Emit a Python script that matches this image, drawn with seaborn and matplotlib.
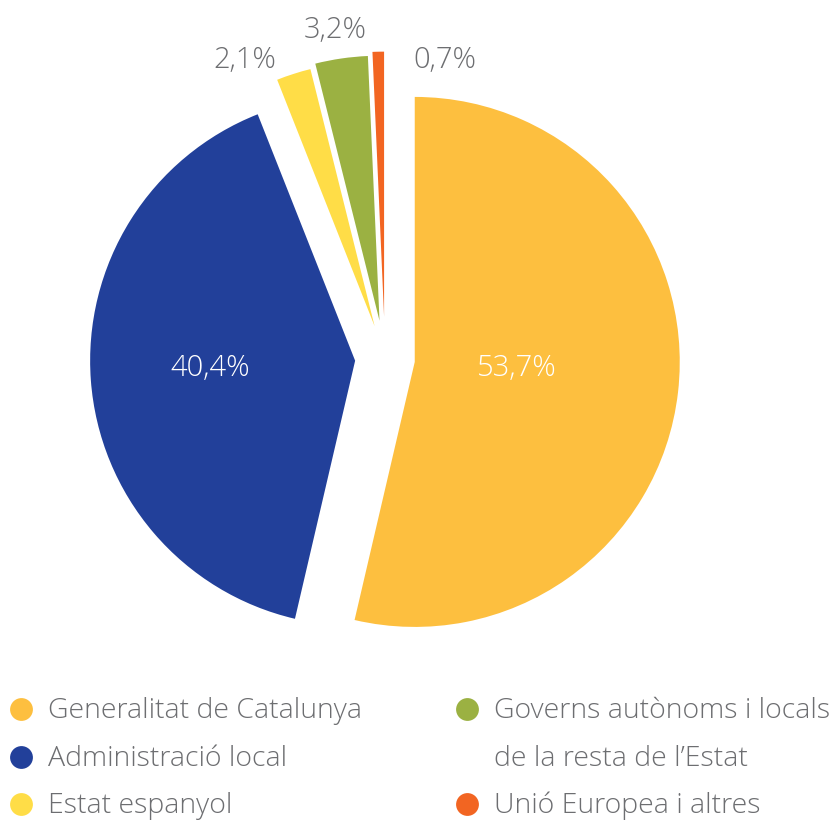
import matplotlib
matplotlib.use('Agg')
import matplotlib.pyplot as plt
import seaborn as sns

# data
categories = ['Generalitat de Catalunya', 'Administració local', 'Estat espanyol',
              'Governs autònoms i locals\nde la resta de l\u2019Estat', 'Unió Europea i altres']
shares = [53.7, 40.4, 2.1, 3.2, 0.7]
pct_labels = ['53,7%', '40,4%', '2,1%', '3,2%', '0,7%']
colors = ['#FDBF3F', '#22409A', '#FFDD47', '#9BB142', '#F26522']

sns.set_style('white')
plt.rcParams['font.family'] = ['Open Sans', 'DejaVu Sans']

W, H = 837, 821
CX, CY, R = 385, 358.5, 265  # pie centre and radius in pixels


def px(x, y):
    # pixel position (from top-left) -> data coords of the pie axes
    return (x - CX) / R, (CY - y) / R


fig = plt.figure(figsize=(W / 100, H / 100), dpi=100)
ax = fig.add_axes([0, 0, 1, 1])
ax.pie(shares, colors=colors, startangle=90, counterclock=False,
       explode=[0.113, 0.113, 0.128, 0.144, 0.158], wedgeprops=dict(linewidth=0))
ax.set_xlim(-CX / R, (W - CX) / R)
ax.set_ylim((CY - H) / R, CY / R)
ax.set_aspect('equal')
ax.axis('off')

# percentage labels
label_pos = [(517, 368), (210, 368), (245, 60), (335, 30), (445, 60)]
label_col = ['white', 'white', '#6D6E71', '#6D6E71', '#6D6E71']
for txt, (x, y), c in zip(pct_labels, label_pos, label_col):
    ax.text(*px(x, y), txt, color=c, fontsize=21, fontweight='light',
            ha='center', va='center')

# legend
legend_pos = [(21, 709), (21, 757), (21, 804), (467, 709), (467, 804)]
for name, col, (x, y) in zip(categories, colors, legend_pos):
    ax.scatter(*px(x, y), s=270, color=col, linewidths=0, clip_on=False)
    lines = name.split('\n')
    for i, line in enumerate(lines):
        ax.text(*px(x + 27, y + 2 + i * 48), line, color='#6D6E71', fontsize=20.5,
                fontweight='light', ha='left', va='center')

fig.savefig('out.png', dpi=100)
